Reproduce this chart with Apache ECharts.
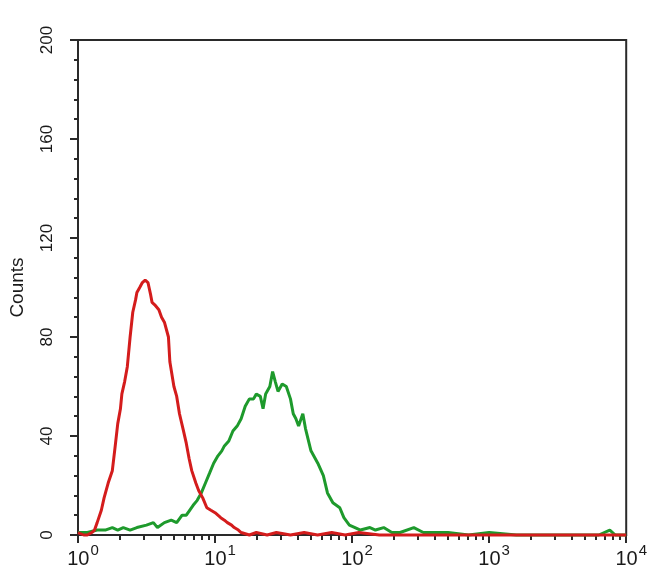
<!DOCTYPE html>
<html>
<head>
<meta charset="utf-8">
<script src="https://cdn.jsdelivr.net/npm/echarts@6/dist/echarts.min.js"></script>
<style>
html,body{margin:0;padding:0;background:#fff;}
#chart{width:650px;height:585px;}
</style>
</head>
<body>
<div id="chart"></div>
<script>
// Fluorescence intensity (log scale, 10^0 .. 10^4) and counts
var redIntensity = [1.00,1.10,1.17,1.26,1.32,1.38,1.48,1.55,1.66,1.78,1.86,1.95,2.04,2.09,2.19,2.29,2.40,2.51,2.63,2.69,2.82,2.95,3.09,3.24,3.39,3.47,3.63,3.89,4.07,4.27,4.57,4.68,5.01,5.25,5.50,5.89,6.17,6.46,6.76,7.24,7.59,8.13,8.71,9.33,10.0,11.0,11.7,12.3,13.2,13.8,14.8,15.5,17.8,20.0,24.0,28.0,35.5,44.7,56.0,71.0,89.0,112,158,316,1000,3160,10000];
var redCounts    = [1,0,0,1,2,5,10,15,21,26,35,45,51,57,62,68,80,90,95,98,100,102,103,102,97,94,93,91,88,86,80,70,60,56,49,42,37,31,26,21,18,15,11,10,9,7,6,5,4,3,2,1,0,1,0,1,0,1,0,1,0,1,0,0,0,0,0];

var greenIntensity = [1.00,1.17,1.38,1.58,1.78,1.95,2.14,2.40,2.69,3.16,3.55,3.80,4.27,4.79,5.25,5.75,6.17,6.92,7.41,7.94,8.51,9.12,9.77,10.5,11.2,11.7,12.6,13.5,14.5,15.5,16.6,17.8,19.1,20.0,21.4,22.4,23.4,25.1,26.3,27.5,28.8,30.9,33.1,35.5,37.2,38.9,40.7,43.7,45.7,50.1,56.2,61.7,66.1,72.4,81.3,87.1,95.5,105,115,135,148,170,195,224,282,331,398,501,708,1000,1580,3160,6310,7590,8320,10000];
var greenCounts    = [1,1,2,2,3,2,3,2,3,4,5,3,5,6,5,8,8,12,14,17,21,25,29,32,34,36,38,42,44,47,52,55,55,57,56,51,57,60,66,62,58,61,60,55,49,47,44,49,43,34,29,24,17,13,11,7,4,3,2,3,2,3,1,1,3,1,1,1,0,1,0,0,0,2,0,0];

var xMinorTickValues = [2,3,4,5,6,7,8,9,20,30,40,50,60,70,80,90,200,300,400,500,600,700,800,900,2000,3000,4000,5000,6000,7000,8000,9000];
var yTickValues = [0,40,80,120,160,200];

function pairs(xs, ys){ return xs.map(function(x,i){ return [x, ys[i]]; }); }

var chart = echarts.init(document.getElementById('chart'), null, {renderer:'canvas'});
var axisColor = '#2a2a2a';
var font = 'Liberation Sans, Arial, sans-serif';
var option = {
  backgroundColor: '#ffffff',
  animation: false,
  grid: {left:71, right:23, top:40, bottom:50, show:true, borderColor:axisColor, borderWidth:2, backgroundColor:'transparent'},
  xAxis: [{
    type:'log', logBase:10, min:1, max:10000,
    axisLine:{show:true, lineStyle:{color:axisColor, width:2}},
    axisTick:{show:true, length:8, lineStyle:{color:axisColor, width:2}},
    splitLine:{show:false},
    axisLabel:{
      margin:8,
      formatter:function(v){ var e = Math.round(Math.log10(v)); return '{b|10}{s|' + e + '}'; },
      rich:{
        b:{fontFamily:font, fontSize:20, color:'#1a1a1a', lineHeight:26, verticalAlign:'bottom', padding:[0,0,0,10]},
        s:{fontFamily:font, fontSize:15, color:'#1a1a1a', lineHeight:26, verticalAlign:'top', padding:[0,0,0,1]}
      }
    }
  },{
    type:'value', min:0, max:4, position:'bottom',
    axisLine:{show:false},
    axisTick:{show:true, length:5, customValues: xMinorTickValues.map(function(v){return Math.log10(v);}), lineStyle:{color:axisColor, width:2}},
    axisLabel:{show:false},
    splitLine:{show:false}
  }],
  yAxis: {
    type:'value', min:0, max:200, interval:40,
    name:'Counts', nameLocation:'middle', nameGap:51,
    nameTextStyle:{fontFamily:font, fontSize:19, color:'#1a1a1a'},
    axisLine:{show:true, lineStyle:{color:axisColor, width:2}},
    axisTick:{show:true, length:8, lineStyle:{color:axisColor, width:2}},
    minorTick:{show:true, splitNumber:5, length:4, lineStyle:{color:axisColor, width:2}},
    splitLine:{show:false},
    axisLabel:{rotate:90, margin:22, fontFamily:font, fontSize:17, color:'#1a1a1a',
      formatter:function(v){ return yTickValues.indexOf(v) >= 0 ? String(v) : ''; }}
  },
  series: [{
    type:'line', name:'green', xAxisIndex:0, data:pairs(greenIntensity, greenCounts),
    showSymbol:false, clip:false, lineStyle:{color:'#1e9a2c', width:3}, z:3
  },{
    type:'line', name:'red', xAxisIndex:0, data:pairs(redIntensity, redCounts),
    showSymbol:false, clip:false, lineStyle:{color:'#d41c1c', width:3}, z:4
  }]
};
chart.setOption(option);
</script>
</body>
</html>
